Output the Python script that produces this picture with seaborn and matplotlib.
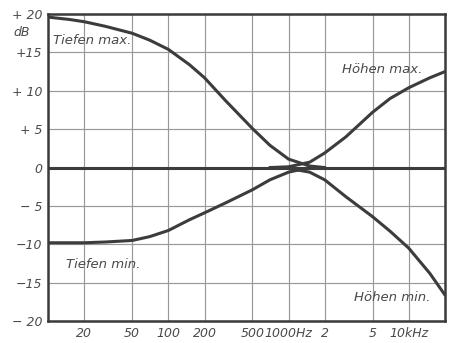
import matplotlib
matplotlib.use("Agg")
import matplotlib.pyplot as plt
import seaborn as sns
import pandas as pd
import numpy as np

# ---- data ----
tiefen_max_f = [10, 15, 20, 30, 50, 70, 100, 150, 200, 300, 500, 700, 1000, 1500, 2000]
tiefen_max_db = [19.6, 19.3, 19.0, 18.4, 17.5, 16.6, 15.4, 13.4, 11.7, 8.7, 5.1, 2.9, 1.1, 0.2, 0.0]

tiefen_min_f = [10, 20, 30, 50, 70, 100, 150, 200, 300, 500, 700, 1000, 1500, 2000]
tiefen_min_db = [-9.8, -9.8, -9.7, -9.5, -9.0, -8.2, -6.8, -5.9, -4.6, -2.9, -1.6, -0.6, 0.0, 0.0]

hoehen_max_f = [700, 1000, 1500, 2000, 3000, 5000, 7000, 10000, 15000, 20000]
hoehen_max_db = [0.0, 0.1, 0.7, 1.9, 4.0, 7.2, 9.0, 10.4, 11.7, 12.5]

hoehen_min_f = [700, 1000, 1500, 2000, 3000, 5000, 7000, 10000, 15000, 20000]
hoehen_min_db = [0.0, -0.1, -0.6, -1.6, -3.8, -6.4, -8.3, -10.5, -13.8, -16.6]

linear_f = [10, 100, 1000, 10000, 20000]
linear_db = [0.0, 0.0, 0.0, 0.0, 0.0]

x_ticks = [20, 50, 100, 200, 500, 1000, 2000, 5000, 10000]
x_labels = ["20", "50", "100", "200", "500", "1000Hz", "2", "5", "10kHz"]
y_ticks = [20, 15, 10, 5, 0, -5, -10, -15, -20]
y_labels = ["+ 20", "+15", "+ 10", "+ 5", "0", "− 5", "−10", "−15", "− 20"]

curve_labels = ["Tiefen max.", "Höhen max.", "Tiefen min.", "Höhen min."]

# ---- build table ----
frames = []
for name, f, d in [("Tiefen max", tiefen_max_f, tiefen_max_db),
                   ("Tiefen min", tiefen_min_f, tiefen_min_db),
                   ("Höhen max", hoehen_max_f, hoehen_max_db),
                   ("Höhen min", hoehen_min_f, hoehen_min_db),
                   ("linear", linear_f, linear_db)]:
    frames.append(pd.DataFrame({"f": f, "dB": d, "curve": name}))
df = pd.concat(frames, ignore_index=True)

sns.set_theme(style="white")
plt.rcParams["font.family"] = ["DejaVu Sans"]

fig = plt.figure(figsize=(4.54, 3.43), dpi=100)
fig.patch.set_facecolor("white")
ax = fig.add_axes([0.106, 0.064, 0.874, 0.895])

line_col = "#3c3c3c"
sns.lineplot(data=df, x="f", y="dB", units="curve", estimator=None,
             color=line_col, linewidth=2.2, ax=ax, legend=False, sort=True)

ax.set_xscale("log")
ax.set_xlim(10, 20000)
ax.set_ylim(-20, 20)
ax.set_xticks(x_ticks)
ax.set_xticklabels(x_labels)
ax.xaxis.set_minor_locator(matplotlib.ticker.NullLocator())
ax.set_yticks(y_ticks)
ax.set_yticklabels(y_labels)
ax.set_xlabel("")
ax.set_ylabel("")

ax.grid(True, which="major", color="#999999", linewidth=0.85)
ax.tick_params(length=0, labelsize=9, labelcolor="#4a4a4a", pad=4)
for lab in ax.get_xticklabels() + ax.get_yticklabels():
    lab.set_fontstyle("italic")
for s in ax.spines.values():
    s.set_color("#3a3a3a")
    s.set_linewidth(1.8)
    s.set_visible(True)

tkw = dict(fontsize=9.5, fontstyle="italic", color="#4a4a4a")
ax.text(11, 16.6, curve_labels[0], va="center", ha="left", **tkw)
ax.text(2800, 12.8, curve_labels[1], va="center", ha="left", **tkw)
ax.text(14, -12.6, curve_labels[2], va="center", ha="left", **tkw)
ax.text(3500, -16.9, curve_labels[3], va="center", ha="left", **tkw)
ax.text(-0.045, 0.94, "dB", transform=ax.transAxes, ha="right", va="center",
        fontsize=9, fontstyle="italic", color="#4a4a4a")

fig.savefig("out.png", dpi=100, facecolor="white")
